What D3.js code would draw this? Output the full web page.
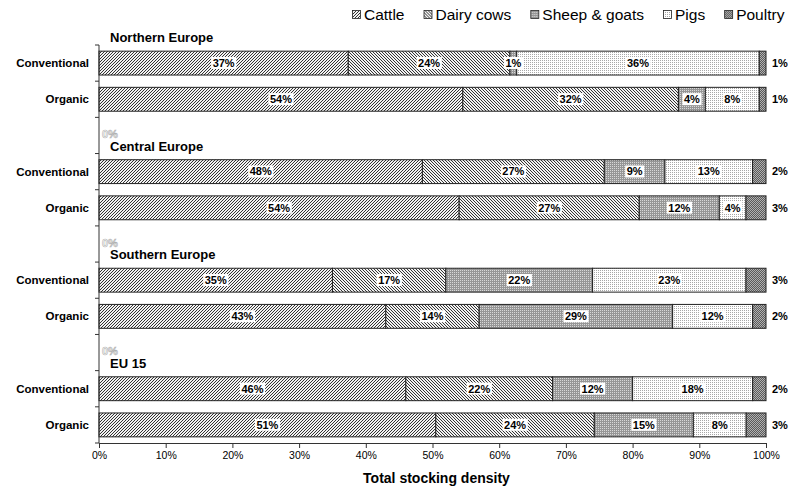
<!DOCTYPE html>
<html>
<head>
<meta charset="utf-8">
<script src="https://cdn.jsdelivr.net/npm/d3@7/dist/d3.min.js"></script>
<style>
  html, body { margin: 0; padding: 0; background: #fff; }
  svg { display: block; font-family: "Liberation Sans", Arial, sans-serif; }
</style>
</head>
<body>
<svg id="chart" width="800" height="490"></svg>
<script>
// Livestock composition of total stocking density, by region and farming system
const regions = ["Northern Europe", "Central Europe", "Southern Europe", "EU 15"];
const farmTypes = ["Conventional", "Organic"];
const species = ["Cattle", "Dairy cows", "Sheep & goats", "Pigs", "Poultry"];

// one value per bar: N-Conv, N-Org, C-Conv, C-Org, S-Conv, S-Org, EU-Conv, EU-Org (%)
const cattle     = [37, 54, 48, 54, 35, 43, 46, 51];
const dairyCows  = [24, 32, 27, 27, 17, 14, 22, 24];
const sheepGoats = [ 1,  4,  9, 12, 22, 29, 12, 15];
const pigs       = [36,  8, 13,  4, 23, 12, 18,  8];
const poultry    = [ 1,  1,  2,  3,  3,  2,  2,  3];

const xTickValues = [0, 0.1, 0.2, 0.3, 0.4, 0.5, 0.6, 0.7, 0.8, 0.9, 1];
const axisTitle = "Total stocking density";

const seriesValues = [cattle, dairyCows, sheepGoats, pigs, poultry];

// rows of the category axis: a blank header row separates the regions
const rows = [];
let barIndex = 0;
regions.forEach((region, ri) => {
  if (ri > 0) rows.push({ key: region + "|header", region, header: true });
  farmTypes.forEach(ft => {
    const row = { key: region + "|" + ft, region, farmType: ft, header: false };
    species.forEach((s, si) => { row[s] = seriesValues[si][barIndex]; });
    rows.push(row);
    barIndex++;
  });
});
const barRows = rows.filter(r => !r.header);

const svg = d3.select("#chart");
const margin = { left: 99, right: 34, top: 45, bottom: 47 };
const W = 800, H = 490;

const x = d3.scaleLinear().domain([0, 1]).range([margin.left, W - margin.right]);
const y = d3.scaleBand()
  .domain(rows.map(r => r.key))
  .range([margin.top, H - margin.bottom])
  .paddingInner(0.34)
  .paddingOuter(0.17);

// fill patterns
const defs = svg.append("defs");
function pattern(id, size, build) {
  const p = defs.append("pattern")
    .attr("id", id)
    .attr("patternUnits", "userSpaceOnUse")
    .attr("width", size).attr("height", size);
  build(p);
}
pattern("p-cattle", 3, p => {
  p.append("rect").attr("width", 3).attr("height", 3).attr("fill", "#f2f2f2");
  p.append("path").attr("d", "M-1,1 L1,-1 M0,3 L3,0 M2,4 L4,2")
    .attr("stroke", "#333").attr("stroke-width", 1);
});
pattern("p-dairy", 3, p => {
  p.append("rect").attr("width", 3).attr("height", 3).attr("fill", "#f2f2f2");
  p.append("path").attr("d", "M-1,2 L1,4 M0,0 L3,3 M2,-1 L4,1")
    .attr("stroke", "#2a2a2a").attr("stroke-width", 0.95);
});
pattern("p-sheep", 2, p => {
  p.append("rect").attr("width", 2).attr("height", 2).attr("fill", "#969696");
  p.append("rect").attr("width", 1).attr("height", 1).attr("fill", "#d8d8d8");
});
pattern("p-pigs", 2, p => {
  p.append("rect").attr("width", 2).attr("height", 2).attr("fill", "#fff");
  p.append("rect").attr("width", 1).attr("height", 1).attr("fill", "#a8a8a8");
});
pattern("p-poultry", 2, p => {
  p.append("rect").attr("width", 2).attr("height", 2).attr("fill", "#5a5a5a");
  p.append("rect").attr("width", 1).attr("height", 1).attr("fill", "#b0b0b0");
  p.append("rect").attr("x", 1).attr("y", 1).attr("width", 1).attr("height", 1).attr("fill", "#b0b0b0");
});
const fills = {
  "Cattle": "url(#p-cattle)",
  "Dairy cows": "url(#p-dairy)",
  "Sheep & goats": "url(#p-sheep)",
  "Pigs": "url(#p-pigs)",
  "Poultry": "url(#p-poultry)"
};

// stacked, normalised to 100 %
const stack = d3.stack().keys(species).offset(d3.stackOffsetExpand);
const stacked = stack(barRows);

const layers = svg.append("g").selectAll("g")
  .data(stacked).join("g")
  .attr("fill", d => fills[d.key]);

layers.selectAll("rect")
  .data(d => d)
  .join("rect")
  .attr("x", d => x(d[0]))
  .attr("y", d => y(d.data.key))
  .attr("width", d => x(d[1]) - x(d[0]))
  .attr("height", y.bandwidth())
  .attr("stroke", "#222")
  .attr("stroke-width", 1);

// value labels
const labels = svg.append("g")
  .attr("font-size", 11)
  .attr("font-weight", "bold");

stacked.forEach(layer => {
  const outside = layer.key === "Poultry";
  layer.forEach(d => {
    const v = d.data[layer.key];
    const cy = y(d.data.key) + y.bandwidth() / 2;
    const g = labels.append("g");
    const t = g.append("text")
      .attr("x", outside ? x(1) + 6 : (x(d[0]) + x(d[1])) / 2)
      .attr("y", cy)
      .attr("dy", "0.35em")
      .attr("text-anchor", outside ? "start" : "middle")
      .attr("fill", "#000")
      .text(v + "%");
    if (!outside) {
      const b = t.node().getBBox();
      g.insert("rect", "text")
        .attr("x", b.x - 1.5).attr("y", b.y)
        .attr("width", b.width + 3).attr("height", b.height)
        .attr("fill", "#fff");
    }
  });
});

// zero labels of the blank header rows
svg.append("g").selectAll("text")
  .data(rows.filter(r => r.header))
  .join("text")
  .attr("x", x(0) + 3)
  .attr("y", d => y(d.key) + y.bandwidth() / 2 - 1)
  .attr("dy", "0.35em")
  .attr("font-size", 11)
  .attr("font-weight", "bold")
  .attr("fill", "#fff")
  .attr("stroke", "#b0b0b0")
  .attr("stroke-width", 0.6)
  .text("0%");

// region titles
svg.append("g").selectAll("text")
  .data(regions)
  .join("text")
  .attr("x", 110)
  .attr("y", r => y(r + "|" + farmTypes[0]) - 9)
  .attr("font-size", 13)
  .attr("font-weight", "bold")
  .attr("fill", "#000")
  .text(r => r);

// category axis
const yAxis = svg.append("g");
const half = (y.step() - y.bandwidth()) / 2;
const bounds = rows.map(r => y(r.key) - half).concat([y(rows[rows.length - 1].key) + y.bandwidth() + half]);
yAxis.append("line")
  .attr("x1", x(0)).attr("x2", x(0))
  .attr("y1", bounds[0]).attr("y2", bounds[bounds.length - 1])
  .attr("stroke", "#333");
yAxis.selectAll(".tk").data(bounds).join("line")
  .attr("class", "tk")
  .attr("x1", x(0) - 4).attr("x2", x(0))
  .attr("y1", d => d).attr("y2", d => d)
  .attr("stroke", "#333");
yAxis.selectAll("text").data(barRows).join("text")
  .attr("x", 89)
  .attr("y", d => y(d.key) + y.bandwidth() / 2)
  .attr("dy", "0.35em")
  .attr("text-anchor", "end")
  .attr("font-size", 11.5)
  .attr("font-weight", "bold")
  .attr("fill", "#000")
  .text(d => d.farmType);

// value axis
const xAxis = svg.append("g")
  .attr("transform", `translate(0,${bounds[bounds.length - 1]})`)
  .call(d3.axisBottom(x).tickValues(xTickValues).tickFormat(d3.format(".0%")).tickSize(5).tickSizeOuter(0));
xAxis.select(".domain").attr("stroke", "#333");
xAxis.selectAll(".tick line").attr("stroke", "#333");
xAxis.selectAll(".tick text")
  .attr("font-family", "Liberation Sans, Arial, sans-serif")
  .attr("font-size", 10.5)
  .attr("fill", "#000")
  .attr("y", 9);

svg.append("text")
  .attr("x", (x(0) + x(1)) / 2 + 4)
  .attr("y", 483)
  .attr("text-anchor", "middle")
  .attr("font-size", 14)
  .attr("font-weight", "bold")
  .attr("fill", "#000")
  .text(axisTitle);

// legend
const legend = svg.append("g").attr("transform", "translate(352,0)");
let lx = 0;
species.forEach(s => {
  const item = legend.append("g").attr("transform", `translate(${lx},0)`);
  item.append("rect")
    .attr("x", 0.5).attr("y", 10.5)
    .attr("width", 8).attr("height", 8)
    .attr("fill", fills[s])
    .attr("stroke", "#222").attr("stroke-width", 0.8);
  const t = item.append("text")
    .attr("x", 12).attr("y", 19.5)
    .attr("font-size", 15.5)
    .attr("fill", "#000")
    .text(s);
  lx += 12 + t.node().getComputedTextLength() + 19;
});
</script>
</body>
</html>
